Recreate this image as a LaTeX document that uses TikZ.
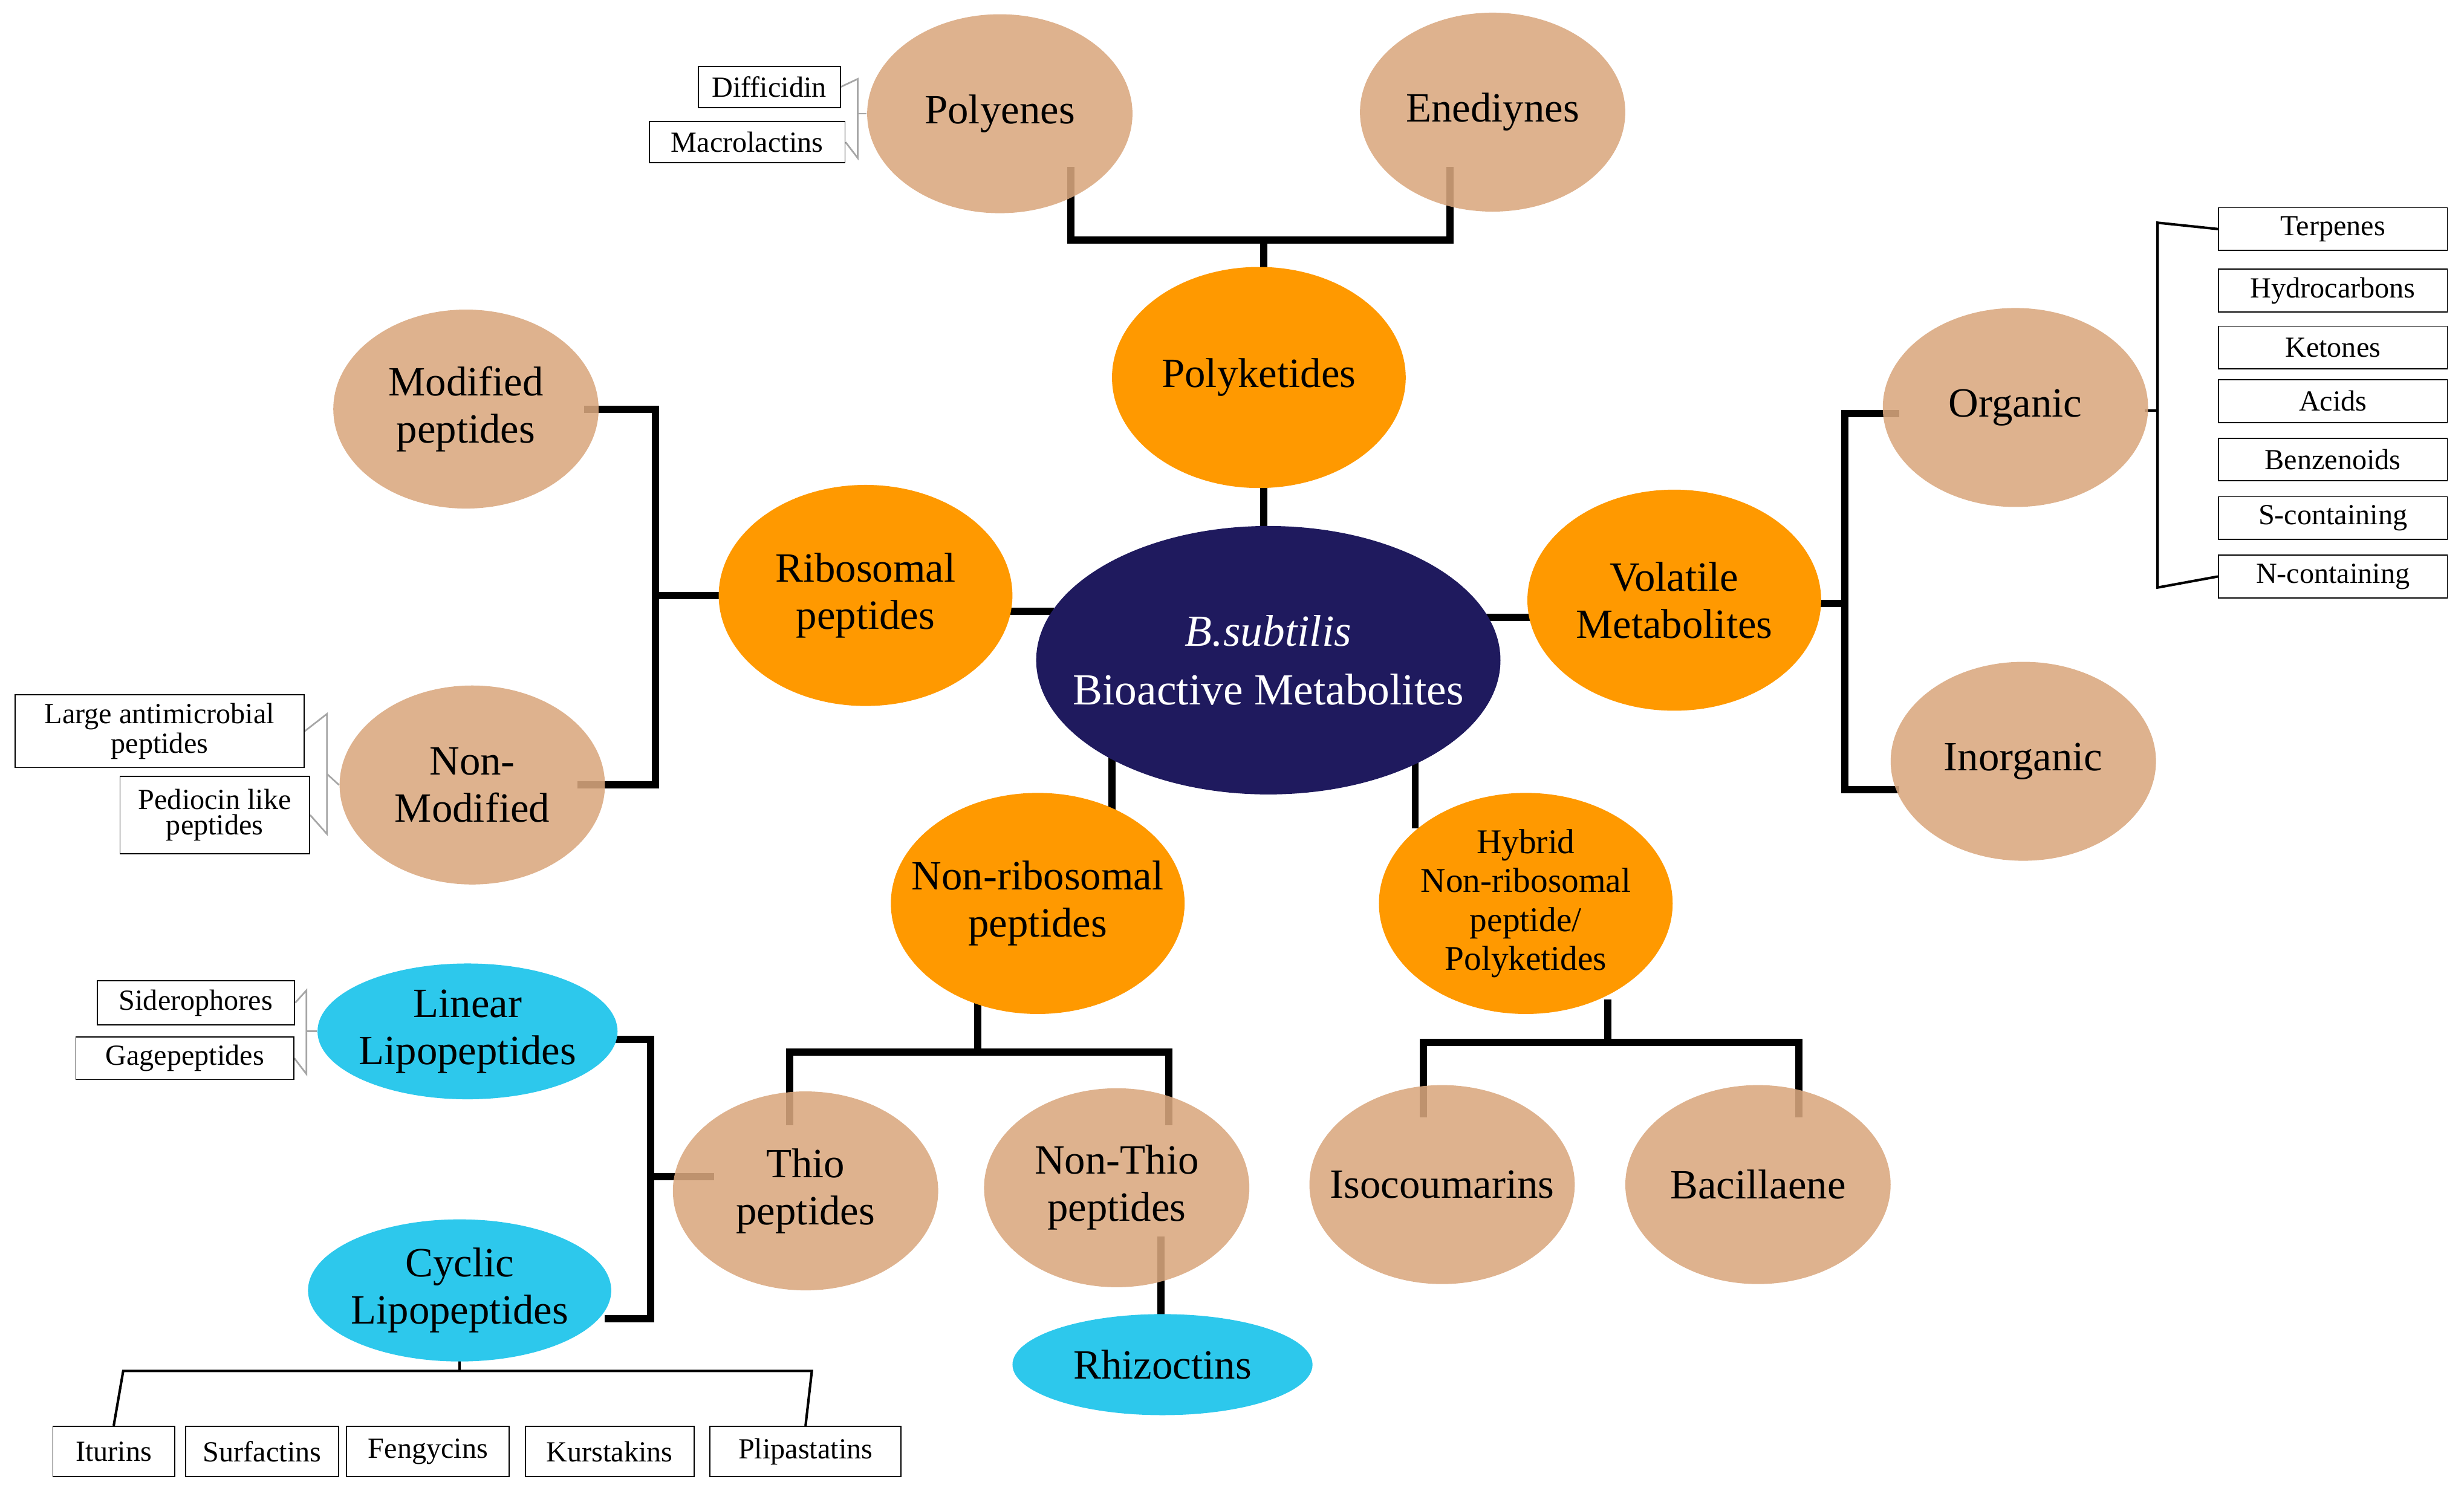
\documentclass[tikz,border=0pt]{standalone}
\usepackage{fontspec}
\setmainfont{Liberation Serif}
\usetikzlibrary{shapes.geometric,backgrounds}
\definecolor{navy}{HTML}{1F1A5E}
\definecolor{orng}{HTML}{FF9900}
\definecolor{tan}{HTML}{D9A77E}
\definecolor{cyn}{HTML}{2DC8EC}
\tikzset{
  oval/.style={ellipse, inner sep=0pt},
  big/.style={oval, fill=orng, minimum width=3.72cm, minimum height=2.8cm},
  sub/.style={oval, fill=tan, fill opacity=0.88, minimum width=3.36cm, minimum height=2.52cm},
  lip/.style={oval, fill=cyn, minimum width=3.8cm, minimum height=1.72cm},
  lbl/.style={align=center, inner sep=0pt, font=\fontsize{15}{17}\selectfont},
  box/.style={draw, fill=white, thin, inner sep=0pt, align=center, font=\fontsize{10.5}{10}\selectfont},
  link/.style={line width=2.6pt, line cap=rect},
  thinlink/.style={line width=0.9pt},
  graylink/.style={line width=0.6pt, gray!70}
}
\begin{document}
\begin{tikzpicture}[x=0.02cm,y=-0.02cm]
    \useasboundingbox (0,0) rectangle (1560,940);
    % main nodes
    \node[oval, fill=navy, minimum width=5.88cm, minimum height=3.4cm] (bsub) at (803,418) {};
    \node[lbl, text=white, font=\fontsize{16}{21}\selectfont] at (bsub) {\textit{B.subtilis}\\Bioactive Metabolites};
    \node[big] (polyk) at (797,239) {};
    \node[lbl] at (polyk) {Polyketides};
    \node[big] (ribo) at (548,377) {};
    \node[lbl] at (ribo) {Ribosomal\\peptides};
    \node[big] (vola) at (1060,380) {};
    \node[lbl] at (vola) {Volatile\\Metabolites};
    \node[big] (nrib) at (657,572) {};
    \node[lbl] at (nrib) {Non-ribosomal\\peptides};
    \node[big] (hyb) at (966,572) {};
    \node[lbl, font=\fontsize{12.5}{14}\selectfont] at (hyb) {Hybrid\\Non-ribosomal\\peptide/\\Polyketides};
    % tan nodes
    \foreach \n/\t/\x/\y in {polyen/Polyenes/633/72, enedi/Enediynes/945/71, modp/{Modified\\peptides}/295/259, nonmod/{Non-\\Modified}/299/497, organ/Organic/1276/258, inorg/Inorganic/1281/482, thio/{Thio\\peptides}/510/754, nthio/{Non-Thio\\peptides}/707/752, isoc/Isocoumarins/913/750, bacil/Bacillaene/1113/750}
      {\node[sub] (\n) at (\x,\y) {};
       \node[lbl] at (\n) {\t};}
    % cyan nodes
    \node[lip] (linlp) at (296,653) {};
    \node[lbl] at (linlp) {Linear\\Lipopeptides};
    \node[lip, minimum width=3.84cm, minimum height=1.8cm] (cyclp) at (291,817) {};
    \node[lbl] at (cyclp) {Cyclic\\Lipopeptides};
    \node[lip, minimum height=1.28cm] (rhizo) at (736,864) {};
    \node[lbl] at (rhizo) {Rhizoctins};
    % small boxes
    \node[box, minimum width=1.8cm, minimum height=0.52cm] (diff) at (487,55) {Difficidin};
    \node[box, minimum width=2.48cm, minimum height=0.52cm] (macro) at (473,90) {Macrolactins};
    \foreach \n/\t/\y in {terp/Terpenes/145, hydr/Hydrocarbons/184, keto/Ketones/220, acid/Acids/254, benz/Benzenoids/291, scont/S-containing/328, ncont/N-containing/365}
      \node[box, minimum width=2.9cm, minimum height=0.54cm] (\n) at (1477,\y) {\t};
    \node[box, minimum width=3.66cm, minimum height=0.92cm, font=\fontsize{10.5}{9}\selectfont] (large) at (101,463) {Large antimicrobial\\peptides};
    \node[box, minimum width=2.4cm, minimum height=0.98cm, font=\fontsize{10.5}{9}\selectfont] (pedio) at (136,516) {Pediocin like\\peptides};
    \node[box, minimum width=2.5cm, minimum height=0.56cm] (sidero) at (124,635) {Siderophores};
    \node[box, minimum width=2.76cm, minimum height=0.54cm] (gage) at (117,670) {Gagepeptides};
    \node[box, minimum width=1.54cm, minimum height=0.64cm] (itur) at (72,919) {Iturins};
    \node[box, minimum width=1.94cm, minimum height=0.64cm] (surf) at (166,919) {Surfactins};
    \node[box, minimum width=2.06cm, minimum height=0.64cm] (feng) at (271,919) {Fengycins};
    \node[box, minimum width=2.14cm, minimum height=0.64cm] (kurs) at (386,919) {Kurstakins};
    \node[box, minimum width=2.42cm, minimum height=0.64cm] (plip) at (510,919) {Plipastatins};
    % connectors
    \begin{scope}[on background layer]
    \draw[link] (800,300) -- (800,340);
    \draw[link] (800,175) -- (800,152);
    \draw[link] (678,108) -- (678,152) -- (918,152) -- (918,108);
    \draw[link] (635,387) -- (665,387);
    \draw[link] (460,377) -- (415,377);
    \draw[link] (372,259) -- (415,259) -- (415,497) -- (368,497);
    \draw[link] (940,391) -- (972,391);
    \draw[link] (1148,382) -- (1168,382);
    \draw[link] (1200,262) -- (1168,262) -- (1168,500) -- (1200,500);
    \draw[link] (704,470) -- (704,515);
    \draw[link] (896,470) -- (896,522);
    \draw[link] (619,635) -- (619,666);
    \draw[link] (500,710) -- (500,666) -- (740,666) -- (740,710);
    \draw[link] (1018,635) -- (1018,660);
    \draw[link] (901,705) -- (901,660) -- (1139,660) -- (1139,705);
    \draw[link] (735,785) -- (735,840);
    \draw[link] (450,745) -- (412,745);
    \draw[link] (383,658) -- (412,658) -- (412,835) -- (385,835);
    \draw[thinlink] (291,860) -- (291,868);
    \draw[thinlink] (itur.north) -- (78,868) -- (514,868) -- (plip.north);
    \draw[thinlink] (1358,260) -- (1366,260);
    \draw[thinlink] (terp.west) -- (1366,141) -- (1366,372) -- (ncont.west);
    \draw[graylink] (diff.east) -- (543,50) -- (543,100) -- (macro.east);
    \draw[graylink] (543,72) -- (polyen.west);
    \draw[graylink] (large.east) -- (207,452) -- (207,528) -- (pedio.east);
    \draw[graylink] (207,490) -- (nonmod.west);
    \draw[graylink] (sidero.east) -- (194,627) -- (194,680) -- (gage.east);
    \draw[graylink] (194,653) -- (linlp.west);
    \end{scope}
\end{tikzpicture}
\end{document}
